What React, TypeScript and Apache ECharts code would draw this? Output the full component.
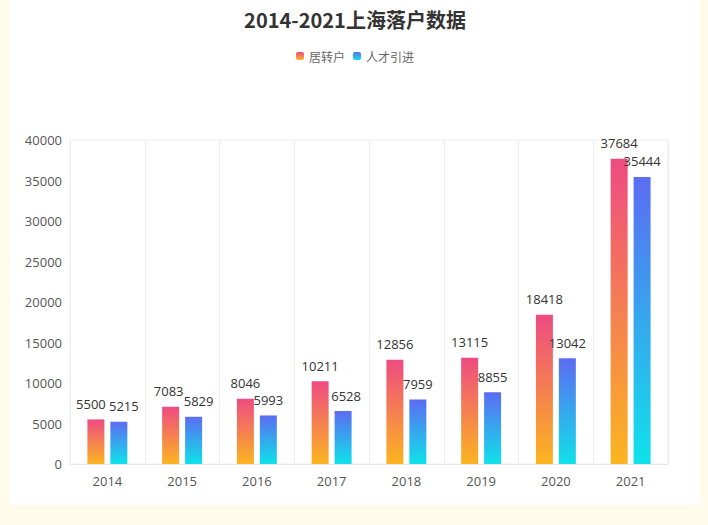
import React, { useEffect, useRef } from "react";
import * as echarts from "echarts";

const years = ["2014", "2015", "2016", "2017", "2018", "2019", "2020", "2021"];
const juZhuanHu = [5500, 7083, 8046, 10211, 12856, 13115, 18418, 37684];
const rencaiYinjin = [5215, 5829, 5993, 6528, 7959, 8855, 13042, 35444];
const seriesNames = ["居转户", "人才引进"];
// horizontal nudges of value labels that would otherwise collide
const juLabelShift = [-5, -2, 0, 0, 0, 0, 0, 0];
const rcLabelShift = [5, 5, 0, 3, 0, 0, 0, 0];

export default function App() {
  const ref = useRef<HTMLDivElement>(null);
  useEffect(() => {
    if (!ref.current) return;
    const chart = echarts.init(ref.current, undefined, { renderer: "svg" });
    const font = "'Open Sans', 'Noto Sans CJK SC', sans-serif";
    const labelCfg = { show: true, position: "top", color: "#333", fontSize: 13, fontFamily: font, distance: 9 };
    const withShift = (vals: number[], shifts: number[]) =>
      vals.map((v, i) => (shifts[i] ? { value: v, label: { offset: [shifts[i], 0] } } : v));
    chart.setOption({
      animation: false,
      backgroundColor: "#ffffff",
      title: {
        text: "2014-2021上海落户数据",
        left: "center",
        top: 4,
        textStyle: { fontSize: 20, fontWeight: "bold", color: "#333", fontFamily: "'Noto Sans CJK SC', sans-serif" },
      },
      legend: {
        top: 45,
        left: "center",
        itemWidth: 8,
        itemHeight: 8,
        itemGap: 8,
        icon: "roundRect",
        textStyle: { fontSize: 12, color: "#666", fontFamily: "'Noto Sans CJK SC', sans-serif" },
        data: seriesNames,
      },
      grid: {
        left: 60,
        right: 32,
        top: 140,
        bottom: 41,
        show: true,
        borderColor: "#eeeeee",
        borderWidth: 1,
      },
      xAxis: {
        type: "category",
        data: years,
        axisLine: { show: true, lineStyle: { color: "#e6e6e6" } },
        axisTick: { show: false },
        axisLabel: { color: "#555", fontSize: 13, margin: 10, fontFamily: font },
        splitLine: { show: true, lineStyle: { color: "#eeeeee" } },
      },
      yAxis: {
        type: "value",
        min: 0,
        max: 40000,
        interval: 5000,
        axisLine: { show: false },
        axisTick: { show: false },
        axisLabel: { color: "#555", fontSize: 13, margin: 8, fontFamily: font, formatter: (v: number) => String(v) },
        splitLine: { show: false },
      },
      series: [
        {
          name: seriesNames[0],
          type: "bar",
          data: withShift(juZhuanHu, juLabelShift),
          barWidth: 17,
          barGap: "35%",
          label: labelCfg,
          itemStyle: {
            color: new echarts.graphic.LinearGradient(0, 0, 0, 1, [
              { offset: 0, color: "#ee4b82" },
              { offset: 1, color: "#fbb520" },
            ]),
          },
        },
        {
          name: seriesNames[1],
          type: "bar",
          data: withShift(rencaiYinjin, rcLabelShift),
          barWidth: 17,
          label: labelCfg,
          itemStyle: {
            color: new echarts.graphic.LinearGradient(0, 0, 0, 1, [
              { offset: 0, color: "#5c6cf2" },
              { offset: 1, color: "#0fe2ea" },
            ]),
          },
        },
      ],
    });
    return () => chart.dispose();
  }, []);
  return (
    <div style={{ position: "fixed", left: 0, top: 0, width: 708, height: 525, background: "#fffbea" }}>
      <div ref={ref} style={{ position: "absolute", left: 10, top: 0, width: 690, height: 505 }} />
    </div>
  );
}
